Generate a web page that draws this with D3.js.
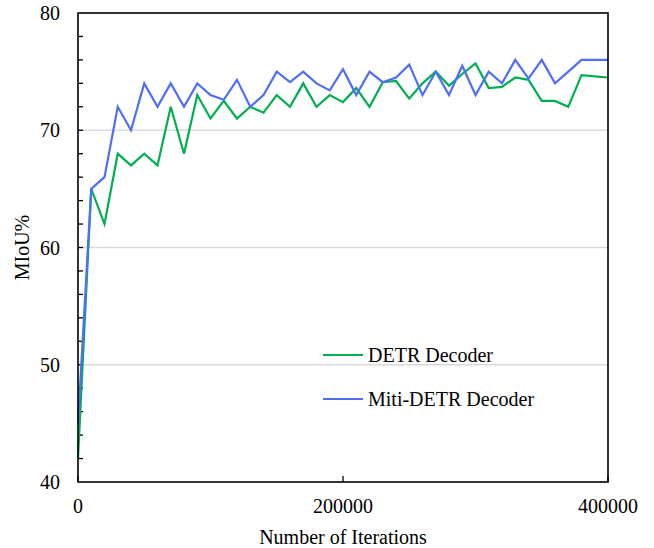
<!DOCTYPE html>
<html>
<head>
<meta charset="utf-8">
<script src="https://cdn.jsdelivr.net/npm/d3@7"></script>
<style>
  body { margin: 0; background: #fff; }
</style>
</head>
<body>
<div class="chart"></div>
<script>
var width = 654;
var height = 548;
var margin = {top: 13, right: 46, bottom: 66, left: 78};
var fontFam = "'Liberation Serif'";

// iterations, every 10000 up to 400000
var iterations = d3.range(0, 400001, 10000);

var detr = [42, 65, 62, 68, 67, 68, 67, 72, 68, 73, 71, 72.5, 71, 72, 71.5, 73, 72, 74, 72, 73,
  72.4, 73.6, 72, 74.1, 74.2, 72.7, 74, 75, 73.8, 74.8, 75.7, 73.6, 73.7, 74.5, 74.3, 72.5,
  72.5, 72, 74.7, 74.6, 74.5];

var mitiDetr = [45, 65, 66, 72, 70, 74, 72, 74, 72, 74, 73, 72.6, 74.3, 72, 73, 75, 74.1, 75, 74, 73.4,
  75.2, 73, 75, 74.1, 74.5, 75.6, 73, 75, 73, 75.5, 73, 75, 74, 76, 74.4, 76,
  74, 75, 76, 76, 76];

var seriesNames = ["DETR Decoder", "Miti-DETR Decoder"];
var seriesColors = ["#00b050", "#4f6ef7"];
var yTicks = [40, 50, 60, 70, 80];
var xTicks = [0, 200000, 400000];

var svg = d3.select(".chart").append("svg")
  .attr("width", width)
  .attr("height", height);

var w = width - margin.left - margin.right;
var h = height - margin.top - margin.bottom;

var g = svg.append("g")
  .attr("transform", "translate(" + margin.left + "," + margin.top + ")");

var x = d3.scaleLinear().domain([0, 400000]).range([0, w]);
var y = d3.scaleLinear().domain([40, 80]).range([h, 0]);

// gridlines
g.selectAll(".grid").data([50, 60, 70]).enter().append("line")
  .attr("x1", 0).attr("x2", w)
  .attr("y1", function(d){ return y(d); })
  .attr("y2", function(d){ return y(d); })
  .attr("stroke", "#d9d9d9")
  .attr("stroke-width", 1.5);

// minor ticks on y, inward
g.selectAll(".ytick").data(d3.range(42, 80, 2)).enter().append("line")
  .attr("x1", 0).attr("x2", 5)
  .attr("y1", function(d){ return y(d); })
  .attr("y2", function(d){ return y(d); })
  .attr("stroke", "#000")
  .attr("stroke-width", 1.3);

// x ticks inward
g.selectAll(".xtick").data(xTicks).enter().append("line")
  .attr("x1", function(d){ return x(d); })
  .attr("x2", function(d){ return x(d); })
  .attr("y1", h).attr("y2", h - 6)
  .attr("stroke", "#000")
  .attr("stroke-width", 1.3);

// lines
var line = d3.line()
  .x(function(d, i){ return x(iterations[i]); })
  .y(function(d){ return y(d); });

[detr, mitiDetr].forEach(function(s, k) {
  g.append("path")
    .datum(s)
    .attr("d", line)
    .attr("fill", "none")
    .attr("stroke", seriesColors[k])
    .attr("stroke-width", 2.2);
});

// frame
g.append("rect")
  .attr("width", w).attr("height", h)
  .attr("fill", "none")
  .attr("stroke", "#000")
  .attr("stroke-width", 1.6);

// tick labels
g.selectAll(".ylab").data(yTicks).enter().append("text")
  .attr("x", -18)
  .attr("y", function(d){ return y(d); })
  .attr("dy", "0.35em")
  .attr("text-anchor", "end")
  .style("font-family", fontFam)
  .style("font-size", "20px")
  .text(function(d){ return d; });

g.selectAll(".xlab").data(xTicks).enter().append("text")
  .attr("x", function(d){ return x(d); })
  .attr("y", h + 31)
  .attr("text-anchor", "middle")
  .style("font-family", fontFam)
  .style("font-size", "20px")
  .text(function(d){ return d; });

// axis titles
svg.append("text")
  .attr("x", margin.left + w / 2)
  .attr("y", 544)
  .attr("text-anchor", "middle")
  .style("font-family", fontFam)
  .style("font-size", "20px")
  .text("Number of Iterations");

svg.append("text")
  .attr("transform", "translate(29," + (margin.top + h / 2) + ") rotate(-90)")
  .attr("text-anchor", "middle")
  .style("font-family", fontFam)
  .style("font-size", "20px")
  .text("MIoU%");

// legend
var legend = svg.append("g").attr("transform", "translate(323,355)");
seriesNames.forEach(function(name, k) {
  legend.append("line")
    .attr("x1", 0).attr("x2", 40)
    .attr("y1", k * 44).attr("y2", k * 44)
    .attr("stroke", seriesColors[k])
    .attr("stroke-width", 2.2);
  legend.append("text")
    .attr("x", 45)
    .attr("y", k * 44 + 7)
    .style("font-family", fontFam)
    .style("font-size", "20px")
    .text(name);
});
</script>
</body>
</html>
